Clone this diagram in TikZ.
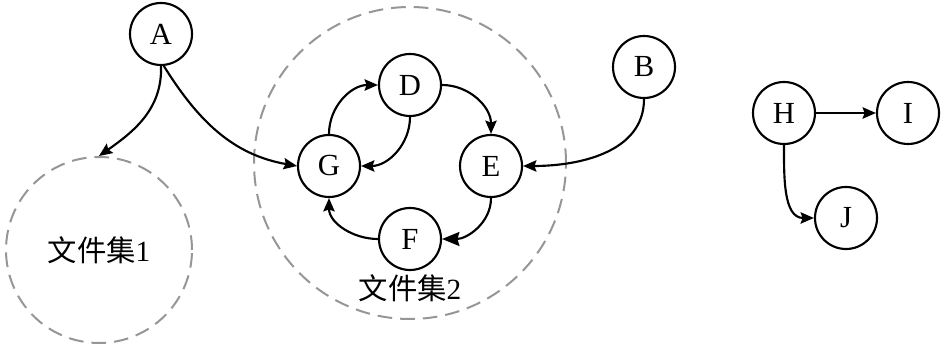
\documentclass[tikz,border=0pt]{standalone}
\usepackage{fontspec}
\setmainfont{Liberation Serif}
\newfontfamily\cjk{Noto Sans CJK SC}
\usetikzlibrary{arrows.meta}
\definecolor{dashgray}{RGB}{150,150,150}
\begin{document}
\begin{tikzpicture}[x=0.75pt,y=-0.75pt,
  vtx/.style={circle,draw,line width=1.6pt,minimum size=46.5pt,inner sep=0pt,font=\fontsize{23}{25}\selectfont},
  grp/.style={circle,draw=dashgray,line width=1.5pt,dash pattern=on 11pt off 6pt,inner sep=0pt},
  lbl/.style={font=\fontsize{22}{24}\selectfont,inner sep=0pt},
  arr/.style={line width=1.6pt,-{Stealth[length=10pt,width=8.5pt,inset=1.5pt]}},
  bigarr/.style={line width=1.6pt,-{Stealth[length=13pt,width=10.5pt,inset=1.5pt]}}]
\useasboundingbox (0,0) rectangle (945,348);
% groups
\node[grp,minimum size=139.5pt,lbl] (fs1) at (99,250) {{\cjk 文件集}1};
\node[grp,minimum size=234pt] (fs2) at (410,163) {};
\node[lbl] (t2) at (410,288) {{\cjk 文件集}2};
% vertices
\node[vtx] (A) at (161,34) {A};
\node[vtx] (D) at (410,85) {D};
\node[vtx] (G) at (329,166) {G};
\node[vtx] (E) at (491,166) {E};
\node[vtx] (F) at (410,239) {F};
\node[vtx] (B) at (644,67) {B};
\node[vtx] (H) at (784,113) {H};
\node[vtx] (I) at (908,113) {I};
\node[vtx] (J) at (846,218) {J};
% edges
\draw[arr] (A.south) to[out=-88,in=35] (fs1.north);
\draw[arr] (A.-85) to[out=-58,in=170] (G.west);
\draw[arr] (G.north) to[out=90,in=180] (D.west);
\draw[arr] (D.south) to[out=-90,in=0] (G.east);
\draw[arr] (D.east) to[out=0,in=90] (E.north);
\draw[bigarr] (E.south) to[out=-90,in=0] (F.east);
\draw[arr] (F.west) to[out=180,in=-90] (G.south);
\draw[arr] (B.south) to[out=-90,in=0] (E.east);
\draw[arr] (H) -- (I);
\draw[arr] (H.south) to[out=-90,in=180] (J.west);
\end{tikzpicture}
\end{document}
